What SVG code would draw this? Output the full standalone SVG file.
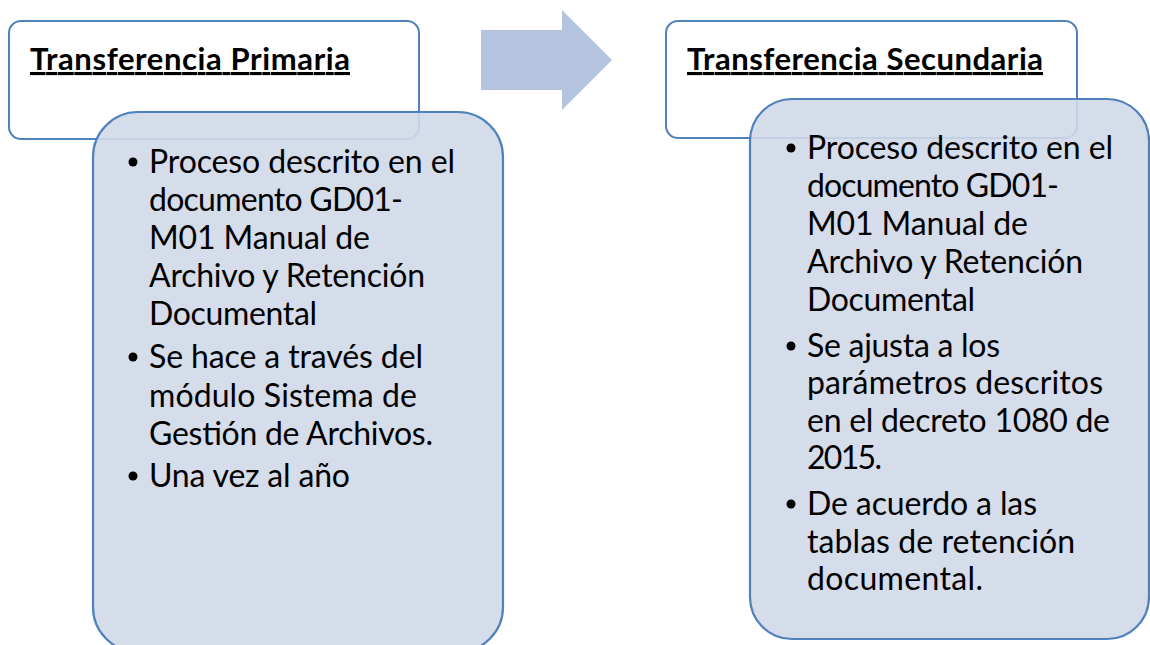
<svg xmlns="http://www.w3.org/2000/svg" width="1150" height="645" viewBox="0 0 1150 645">
<style>
.hdr{fill:#ffffff;stroke:#4f81bd;stroke-width:2}
.body{fill:#d0d8e8;fill-opacity:0.9;stroke:#4f81bd;stroke-width:2.2}
.title{font-family:Lato,"Liberation Sans",sans-serif;font-weight:bold;font-size:31px;fill:#000;text-decoration:underline}
.t{font-family:Lato,"Liberation Sans",sans-serif;font-size:32px;fill:#000}
.bul{fill:#000}
</style>
<rect width="1150" height="645" fill="#ffffff"/>
<g id="connectors">
  <polygon points="481,30 562,30 562,10 612,60 562,110 562,90 481,90" fill="#b4c3df"/>
</g>
<g id="node-primaria">
  <rect class="hdr" x="9" y="21" width="410" height="118" rx="12"/>
  <text class="title" x="30" y="70" textLength="320">Transferencia Primaria</text>
  <rect class="body" x="93" y="112" width="410" height="540" rx="45"/>
  <circle class="bul" cx="133" cy="162" r="4.5"/>
  <text class="t" x="149" y="173" textLength="306">Proceso descrito en el</text>
  <text class="t" x="149" y="211" textLength="254">documento GD01-</text>
  <text class="t" x="149" y="249" textLength="221">M01 Manual de</text>
  <text class="t" x="149" y="287" textLength="276">Archivo y Retención</text>
  <text class="t" x="149" y="325" textLength="168">Documental</text>
  <circle class="bul" cx="133" cy="357" r="4.5"/>
  <text class="t" x="149" y="368" textLength="274">Se hace a través del</text>
  <text class="t" x="149" y="407" textLength="268">módulo Sistema de</text>
  <text class="t" x="149" y="445" textLength="284">Gestión de Archivos.</text>
  <circle class="bul" cx="133" cy="476" r="4.5"/>
  <text class="t" x="149" y="487" textLength="201">Una vez al año</text>
</g>
<g id="node-secundaria">
  <rect class="hdr" x="666" y="21" width="411" height="117" rx="12"/>
  <text class="title" x="687" y="70" textLength="356">Transferencia Secundaria</text>
  <rect class="body" x="750" y="99" width="399" height="540" rx="42"/>
  <circle class="bul" cx="791" cy="148" r="4.5"/>
  <text class="t" x="807" y="159" textLength="306">Proceso descrito en el</text>
  <text class="t" x="807" y="197" textLength="252">documento GD01-</text>
  <text class="t" x="807" y="235" textLength="221">M01 Manual de</text>
  <text class="t" x="807" y="273" textLength="276">Archivo y Retención</text>
  <text class="t" x="807" y="311" textLength="168">Documental</text>
  <circle class="bul" cx="791" cy="346" r="4.5"/>
  <text class="t" x="807" y="357" textLength="193">Se ajusta a los</text>
  <text class="t" x="807" y="394" textLength="296">parámetros descritos</text>
  <text class="t" x="807" y="432" textLength="303">en el decreto 1080 de</text>
  <text class="t" x="807" y="469" textLength="75">2015.</text>
  <circle class="bul" cx="791" cy="504" r="4.5"/>
  <text class="t" x="807" y="515" textLength="230">De acuerdo a las</text>
  <text class="t" x="807" y="553" textLength="268">tablas de retención</text>
  <text class="t" x="807" y="590" textLength="176">documental.</text>
</g>
</svg>
